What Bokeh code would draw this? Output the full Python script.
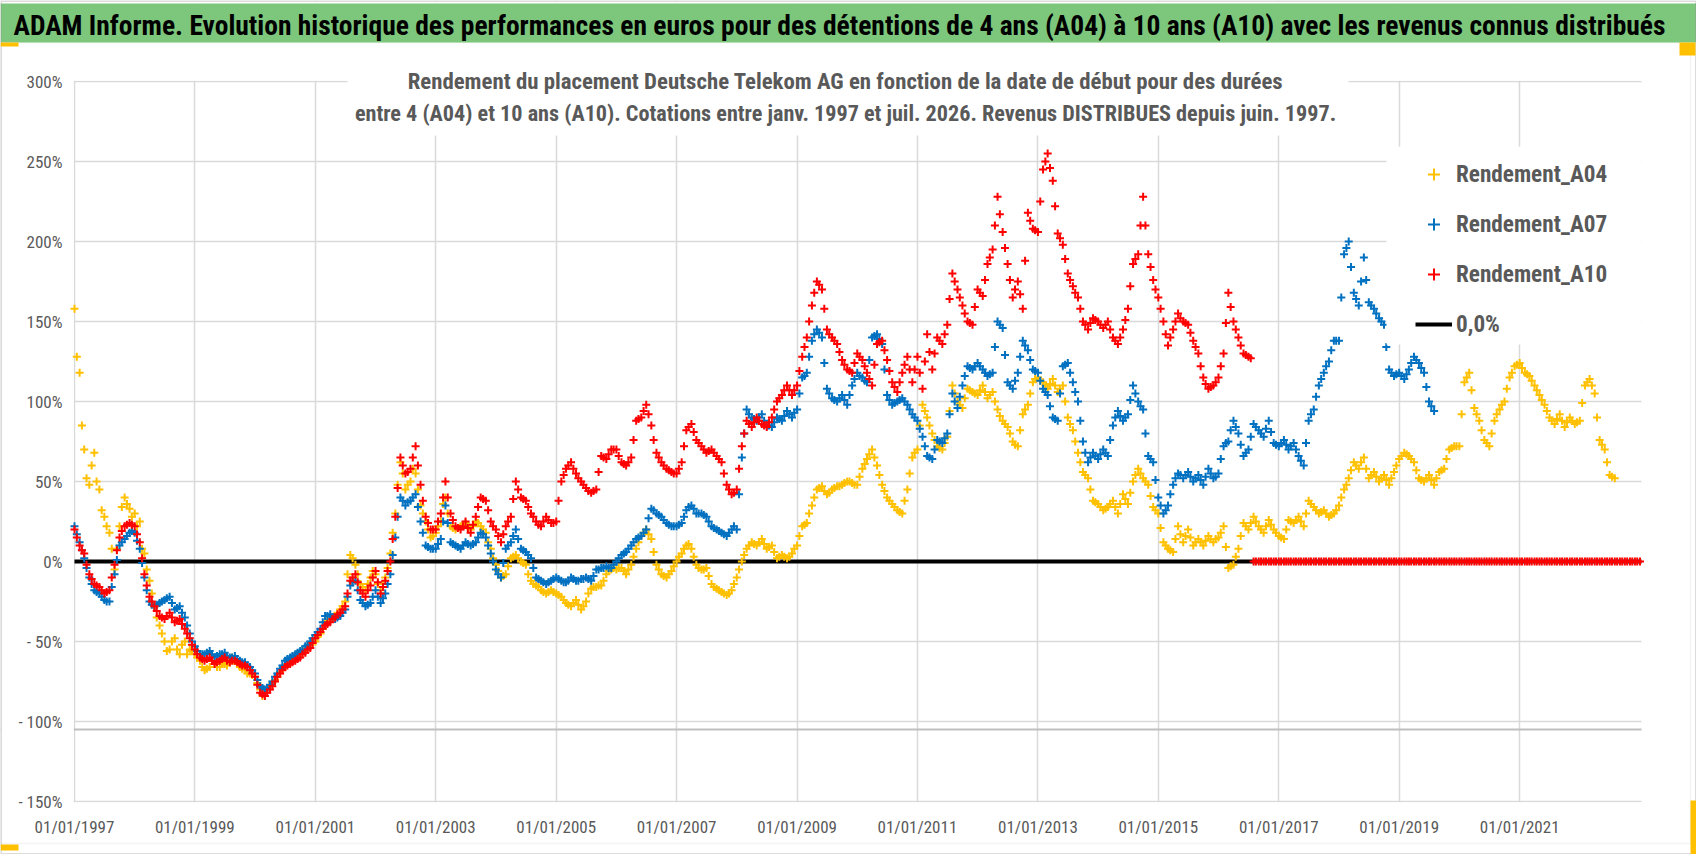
import pandas as pd
from bokeh.plotting import figure
from bokeh.models import (FixedTicker, Label, Legend, LegendItem, Span,
                          BoxAnnotation, ColumnDataSource, Range1d)
from bokeh.embed import file_html
from bokeh.resources import INLINE

# ---------------- data: readings on the 1st of each month, from 1997-01 ----------------
rendement_a04 = [
    158, 118, 70, 48, 68, 45, 28, 18, -5, 22, 40, 33,          # 1997
    30, 25, 5, -12, -28, -40, -50, -55, -48, -58, -50, -55,     # 1998
    -58, -62, -68, -66, -64, -66, -64, -63, -62, -66, -68, -70, # 1999
    -72, -80, -82, -78, -74, -69, -65, -63, -60, -58, -55, -52, # 2000
    -50, -45, -38, -36, -34, -30, -25, 4, -2, -14, -18, -10,    # 2001
    -8, -18, -10, 5, 30, 62, 45, 50, 55, 35, 25, 15,            # 2002
    18, 25, 40, 22, 20, 22, 24, 20, 25, 22, 18, 8,              # 2003
    -2, -10, -8, 2, 4, 0, -2, -12, -15, -18, -20, -18,          # 2004
    -20, -22, -26, -28, -24, -30, -25, -17, -16, -15, -8, -5,   # 2005
    -5, -4, -8, -2, 8, 16, 20, 14, -2, -8, -10, -6,             # 2006
    0, 5, 10, 8, -2, -5, -4, -14, -17, -19, -21, -18,           # 2007
    -10, 0, 8, 12, 10, 14, 8, 10, 2, 4, 2, 5,                   # 2008
    10, 22, 24, 35, 45, 47, 42, 45, 47, 48, 50, 49,             # 2009
    48, 58, 64, 70, 60, 48, 40, 36, 32, 30, 45, 65,             # 2010
    70, 98, 90, 80, 72, 70, 78, 110, 100, 96, 108, 106,         # 2011
    104, 110, 102, 106, 95, 88, 84, 75, 72, 92, 98, 112,        # 2012
    115, 112, 108, 114, 106, 110, 90, 82, 68, 56, 52, 38,       # 2013
    36, 32, 34, 38, 30, 42, 36, 50, 58, 52, 48, 34,             # 2014
    30, 12, 8, 6, 22, 12, 20, 10, 14, 10, 16, 12,               # 2015
    15, 22, -4, -2, 8, 24, 20, 28, 22, 18, 26, 20,              # 2016
    16, 14, 26, 24, 28, 22, 38, 34, 30, 32, 28, 30,             # 2017
    35, 45, 52, 62, 58, 65, 52, 56, 50, 54, 48, 56,             # 2018
    64, 68, 66, 62, 52, 50, 54, 48, 56, 58, 70, 72,             # 2019
    72, 112, 118, 96, 88, 76, 72, 88, 95, 100, 115, 122,        # 2020
    124, 118, 116, 110, 104, 98, 90, 86, 92, 84, 90, 86,        # 2021
    88, 110, 114, 105, 76, 70, 54, 52,                          # 2022
]
rendement_a07 = [
    22, 12, 2, -10, -18, -20, -24, -25, -8, 10, 14, 18,         # 1997
    18, 8, -10, -25, -28, -26, -24, -22, -30, -28, -35, -45,    # 1998
    -53, -58, -58, -56, -60, -58, -57, -60, -59, -62, -63, -66, # 1999
    -70, -78, -80, -77, -72, -67, -62, -60, -58, -56, -53, -50, # 2000
    -46, -42, -34, -33, -36, -34, -30, -15, -12, -24, -28, -26, # 2001
    -18, -26, -20, -8, 15, 40, 35, 38, 42, 25, 10, 8,           # 2002
    8, 14, 35, 12, 10, 8, 12, 10, 12, 18, 15, 5,                # 2003
    -5, -10, 8, 12, 20, 8, 6, 2, -10, -12, -14, -12,            # 2004
    -10, -12, -13, -10, -12, -11, -10, -12, -5, -4, -3, -4,     # 2005
    0, 4, 6, 10, 14, 16, 20, 33, 30, 28, 24, 22,                # 2006
    22, 24, 32, 35, 30, 30, 28, 22, 20, 18, 16, 20,             # 2007
    20, 65, 95, 90, 88, 92, 85, 84, 90, 88, 94, 90,             # 2008
    95, 115, 118, 138, 145, 140, 108, 102, 100, 104, 98, 110,   # 2009
    118, 115, 112, 140, 142, 136, 104, 98, 100, 102, 98, 92,    # 2010
    88, 78, 66, 64, 76, 74, 80, 105, 96, 110, 122, 120,         # 2011
    124, 120, 116, 118, 150, 146, 112, 108, 118, 138, 132, 120, # 2012
    118, 108, 104, 90, 88, 122, 124, 112, 100, 75, 62, 68,      # 2013
    64, 70, 66, 85, 94, 88, 92, 110, 100, 95, 66, 62,           # 2014
    40, 30, 35, 48, 55, 52, 56, 50, 54, 48, 58, 52,             # 2015
    55, 72, 75, 88, 80, 66, 70, 86, 82, 78, 88, 74,             # 2016
    72, 76, 70, 74, 66, 60, 88, 95, 110, 118, 125, 138,         # 2017
    138, 192, 200, 168, 160, 190, 162, 158, 152, 148, 120, 116, # 2018
    118, 114, 120, 128, 124, 118, 100, 94,                      # 2019
]
rendement_a10 = [
    20, 10, 5, -8, -14, -16, -20, -18, -2, 15, 22, 24,          # 1997
    22, 12, -8, -22, -28, -34, -36, -32, -38, -36, -42, -48,    # 1998
    -55, -60, -62, -60, -64, -62, -60, -63, -62, -64, -65, -68, # 1999
    -72, -82, -84, -80, -75, -70, -66, -64, -62, -60, -57, -54, # 2000
    -48, -44, -40, -38, -35, -32, -28, -12, -8, -18, -22, -15,  # 2001
    -6, -20, -12, 0, 28, 65, 55, 58, 72, 48, 28, 20,            # 2002
    20, 30, 50, 30, 22, 20, 25, 18, 28, 40, 38, 25,             # 2003
    20, 12, 22, 28, 50, 40, 38, 30, 25, 22, 28, 24,             # 2004
    25, 50, 58, 62, 55, 50, 46, 43, 45, 66, 64, 70,             # 2005
    70, 62, 60, 65, 88, 90, 98, 85, 68, 62, 58, 56,             # 2006
    55, 62, 82, 86, 76, 72, 68, 70, 66, 62, 48, 42,             # 2007
    45, 72, 88, 84, 90, 86, 84, 90, 100, 104, 110, 104,         # 2008
    110, 128, 140, 160, 175, 170, 145, 140, 136, 126, 120, 118, # 2009
    130, 126, 118, 110, 136, 138, 126, 112, 106, 118, 128, 112, # 2010
    128, 108, 142, 120, 140, 136, 148, 180, 170, 160, 150, 148, # 2011
    170, 166, 186, 195, 228, 206, 186, 165, 175, 158, 218, 208, # 2012
    206, 245, 255, 238, 205, 198, 180, 172, 165, 150, 145, 152, # 2013
    150, 146, 150, 140, 136, 145, 158, 186, 192, 228, 192, 176, # 2014
    165, 150, 135, 145, 155, 150, 148, 138, 130, 115, 108, 110, # 2015
    115, 130, 168, 150, 140, 130, 128, 0, 0, 0, 0, 0,           # 2016
    0, 0, 0, 0, 0, 0, 0, 0, 0, 0, 0, 0,                         # 2017
    0, 0, 0, 0, 0, 0, 0, 0, 0, 0, 0, 0,                         # 2018
    0, 0, 0, 0, 0, 0, 0, 0, 0, 0, 0, 0,                         # 2019
    0, 0, 0, 0, 0, 0, 0, 0, 0, 0, 0, 0,                         # 2020
    0, 0, 0, 0, 0, 0, 0, 0, 0, 0, 0, 0,                         # 2021
    0, 0, 0, 0, 0, 0, 0, 0, 0, 0, 0, 0,                         # 2022
    0,                                                          # 2023
]
# ---------------- data: readings on the 15th of each month, from 1997-01 ----------------
rendement_a04_mi_mois = [
    128, 85, 52, 60, 50, 32, 22, 8, 8, 34, 36, 28,              # 1997
    22, 8, -5, -20, -35, -45, -56, -50, -55, -52, -58, -56,     # 1998
    -60, -66, -67, -62, -66, -63, -65, -60, -64, -67, -70, -71, # 1999
    -76, -84, -80, -76, -72, -67, -64, -61, -59, -56, -53, -51, # 2000
    -47, -42, -37, -35, -32, -28, -8, 2, -8, -16, -14, -6,      # 2001
    -14, -14, -4, 18, 48, 55, 48, 58, 45, 30, 20, 16,           # 2002
    22, 36, 30, 21, 21, 23, 22, 22, 24, 20, 12, 2,              # 2003
    -6, -9, -3, 3, 2, -1, -8, -14, -16, -19, -19, -19,          # 2004
    -21, -24, -27, -26, -27, -28, -20, -16, -15, -12, -6, -4,   # 2005
    -4, -6, -5, 3, 12, 18, 17, 6, -5, -9, -8, -3,               # 2006
    3, 8, 11, 3, -4, -5, -9, -16, -18, -20, -20, -14,           # 2007
    -5, 4, 10, 11, 12, 11, 9, 6, 3, 3, 3, 8,                    # 2008
    16, 23, 30, 40, 46, 44, 43, 46, 47, 49, 50, 48,             # 2009
    53, 61, 67, 65, 54, 44, 38, 34, 31, 38, 55, 68,             # 2010
    85, 94, 85, 76, 71, 74, 94, 105, 98, 102, 107, 105,         # 2011
    107, 106, 104, 100, 91, 86, 80, 73, 82, 95, 105, 114,       # 2012
    113, 110, 111, 110, 108, 100, 86, 75, 62, 54, 45, 37,       # 2013
    34, 33, 36, 34, 36, 39, 43, 54, 55, 50, 41, 32,             # 2014
    21, 10, 7, 14, 17, 16, 15, 12, 12, 13, 14, 14,              # 2015
    18, 9, -3, 3, 16, 22, 24, 25, 20, 22, 23, 18,               # 2016
    15, 20, 25, 26, 25, 30, 36, 32, 31, 30, 29, 32,             # 2017
    40, 48, 57, 60, 62, 58, 54, 53, 52, 51, 52, 60,             # 2018
    66, 67, 64, 57, 51, 52, 51, 52, 57, 64, 71, 72,             # 2019
    92, 115, 107, 92, 82, 74, 80, 92, 98, 108, 118, 123,        # 2020
    121, 117, 113, 107, 101, 94, 88, 89, 88, 87, 88, 87,        # 2021
    99, 112, 110, 90, 73, 62, 53,                               # 2022
]
rendement_a07_mi_mois = [
    17, 7, -4, -14, -19, -22, -25, -16, 1, 12, 16, 19,          # 1997
    13, -1, -18, -27, -27, -25, -23, -26, -29, -32, -40, -50,   # 1998
    -56, -58, -57, -58, -59, -58, -59, -60, -61, -63, -65, -68, # 1999
    -74, -79, -79, -75, -70, -65, -61, -59, -57, -55, -52, -48, # 2000
    -44, -38, -34, -35, -35, -32, -22, -13, -18, -26, -27, -22, # 2001
    -22, -23, -14, 4, 28, 38, 37, 40, 34, 18, 9, 8,             # 2002
    11, 25, 24, 11, 9, 10, 11, 11, 15, 17, 10, 0,               # 2003
    -8, -1, 10, 16, 14, 7, 4, -4, -11, -13, -13, -11,           # 2004
    -11, -13, -12, -11, -12, -11, -11, -9, -5, -4, -4, -2,      # 2005
    2, 5, 8, 12, 15, 18, 27, 32, 29, 26, 23, 22,                # 2006
    23, 28, 34, 33, 30, 29, 25, 21, 19, 17, 18, 22,             # 2007
    42, 80, 92, 89, 90, 88, 85, 87, 89, 91, 92, 93,             # 2008
    105, 116, 128, 142, 143, 124, 105, 101, 102, 101, 104, 114, # 2009
    116, 113, 126, 141, 139, 120, 101, 99, 101, 100, 95, 90,    # 2010
    83, 72, 65, 70, 75, 77, 92, 100, 103, 116, 121, 122,        # 2011
    122, 118, 117, 134, 148, 129, 110, 113, 128, 135, 126, 119, # 2012
    113, 106, 97, 89, 105, 123, 118, 106, 88, 68, 65, 66,       # 2013
    67, 68, 76, 90, 91, 90, 101, 105, 97, 80, 64, 51,           # 2014
    35, 32, 42, 52, 54, 54, 53, 52, 51, 53, 55, 53,             # 2015
    64, 74, 82, 84, 73, 68, 78, 84, 80, 83, 81, 73,             # 2016
    74, 73, 72, 70, 63, 74, 92, 103, 114, 122, 132, 138,        # 2017
    165, 196, 184, 164, 175, 176, 160, 155, 150, 134, 118, 117, # 2018
    116, 117, 124, 126, 121, 109, 97,                           # 2019
]
rendement_a10_mi_mois = [
    15, 7, -2, -11, -15, -18, -19, -10, 7, 19, 23, 23,          # 1997
    17, 2, -15, -25, -31, -35, -34, -35, -37, -39, -45, -52,    # 1998
    -58, -61, -61, -62, -63, -61, -62, -62, -63, -65, -66, -70, # 1999
    -77, -83, -82, -78, -72, -68, -65, -63, -61, -58, -55, -51, # 2000
    -46, -42, -39, -36, -33, -30, -20, -10, -13, -20, -18, -10, # 2001
    -13, -16, -6, 14, 46, 60, 56, 65, 60, 38, 24, 20,           # 2002
    25, 40, 40, 26, 21, 22, 21, 23, 34, 39, 32, 22,             # 2003
    16, 17, 25, 39, 45, 39, 34, 28, 23, 25, 26, 24,             # 2004
    38, 54, 60, 58, 52, 48, 44, 44, 56, 65, 67, 70,             # 2005
    66, 61, 62, 76, 89, 94, 92, 76, 65, 60, 57, 55,             # 2006
    58, 72, 84, 81, 74, 70, 69, 68, 64, 55, 45, 43,             # 2007
    58, 80, 86, 87, 88, 85, 87, 95, 102, 107, 107, 107,         # 2008
    119, 134, 150, 168, 173, 158, 142, 138, 131, 123, 119, 124, # 2009
    128, 122, 114, 123, 137, 132, 119, 109, 112, 123, 120, 120, # 2010
    118, 125, 131, 130, 138, 142, 164, 175, 165, 155, 149, 159, # 2011
    168, 176, 190, 210, 217, 196, 176, 170, 167, 188, 213, 207, # 2012
    225, 250, 246, 222, 202, 189, 176, 168, 158, 148, 149, 151, # 2013
    148, 148, 145, 138, 140, 151, 172, 189, 210, 210, 184, 170, # 2014
    158, 142, 140, 150, 152, 149, 143, 134, 122, 111, 109, 112, # 2015
    122, 149, 159, 145, 135, 129, 127, 0, 0, 0, 0, 0,           # 2016
    0, 0, 0, 0, 0, 0, 0, 0, 0, 0, 0, 0,                         # 2017
    0, 0, 0, 0, 0, 0, 0, 0, 0, 0, 0, 0,                         # 2018
    0, 0, 0, 0, 0, 0, 0, 0, 0, 0, 0, 0,                         # 2019
    0, 0, 0, 0, 0, 0, 0, 0, 0, 0, 0, 0,                         # 2020
    0, 0, 0, 0, 0, 0, 0, 0, 0, 0, 0, 0,                         # 2021
    0, 0, 0, 0, 0, 0, 0, 0, 0, 0, 0, 0,                         # 2022
]
zero_line_dates = ["1997-01-01", "2023-01-10"]
zero_line_values = [0, 0]

x_tick_dates = ["1997-01-01", "1999-01-01", "2001-01-01", "2003-01-01", "2005-01-01",
                "2007-01-01", "2009-01-01", "2011-01-01", "2013-01-01", "2015-01-01",
                "2017-01-01", "2019-01-01", "2021-01-01"]
x_tick_labels = ["01/01/1997", "01/01/1999", "01/01/2001", "01/01/2003", "01/01/2005",
                 "01/01/2007", "01/01/2009", "01/01/2011", "01/01/2013", "01/01/2015",
                 "01/01/2017", "01/01/2019", "01/01/2021"]
y_ticks = [-150, -100, -50, 0, 50, 100, 150, 200, 250, 300]
y_tick_labels = ["- 150%", "- 100%", "- 50%", "0%", "50%", "100%", "150%", "200%", "250%", "300%"]

TITLE = ("ADAM Informe. Evolution historique des performances en euros pour des "
         "détentions de 4 ans (A04) à 10 ans (A10) avec les revenus connus distribués")
SUB1 = "Rendement du placement Deutsche Telekom AG en fonction de la date de début pour des durées"
SUB2 = ("entre 4 (A04) et 10 ans (A10). Cotations entre janv. 1997 et juil. 2026. "
        "Revenus DISTRIBUES depuis juin. 1997.")

# ---------------- styling ----------------
FONT = "'Roboto Condensed', Lato"
GREEN = "#7dc77d"
GRID = "#d9d9d9"
TXT = "#595959"
C04, C07, C10 = "#ffc000", "#0070c0", "#ff0000"
W, H = 1696, 854


def ms(d):
    return pd.Timestamp(d).value // 10**6


# plot area (pixels): x 74..1641 <-> 1997-01-01..2023-01-10, y 81..801 <-> 300%..-150%
MS0, MS1 = ms("1997-01-01"), ms("2023-01-10")
PX_PER_MS = (1641 - 74) / (MS1 - MS0)


def X(px):
    return MS0 + (px - 74) / PX_PER_MS


def Y(py):
    return 300 - (py - 81) / 1.6


p = figure(width=W, height=H, x_axis_type="datetime",
           x_range=Range1d(X(0), X(W)), y_range=Range1d(Y(H), Y(0)),
           toolbar_location=None, output_backend="svg", min_border=0,
           outline_line_color=None, background_fill_color="white", border_fill_color="white")

x_tick_ms = [ms(d) for d in x_tick_dates]
p.xaxis.ticker = FixedTicker(ticks=x_tick_ms)
p.xaxis.major_label_overrides = dict(zip(x_tick_ms, x_tick_labels))
p.yaxis.ticker = FixedTicker(ticks=y_ticks)
p.yaxis.major_label_overrides = dict(zip(y_ticks, y_tick_labels))
p.xaxis.fixed_location = -150
p.yaxis.fixed_location = MS0
for ax in (p.xaxis[0], p.yaxis[0]):
    ax.axis_line_color = None
    ax.major_tick_line_color = None
    ax.minor_tick_line_color = None
    ax.major_tick_out = 0
    ax.major_tick_in = 0
    ax.major_label_text_font = FONT
    ax.major_label_text_font_size = "17px"
    ax.major_label_text_color = TXT
p.xaxis.major_label_standoff = 15
p.yaxis.major_label_standoff = 12

p.xgrid.ticker = FixedTicker(ticks=x_tick_ms)
p.ygrid.ticker = FixedTicker(ticks=y_ticks)
p.grid.grid_line_color = GRID
p.grid.grid_line_width = 1.5

# horizontal axis line of the plot area
p.add_layout(Span(location=-105, dimension="width", line_color="#bfbfbf", line_width=2,
                  level="underlay"))
# keep grid lines inside the plot area
for kw in (dict(right=X(73.3)), dict(left=X(1641)), dict(bottom=Y(80.2)), dict(top=Y(801.8))):
    p.add_layout(BoxAnnotation(fill_color="white", fill_alpha=1, line_color=None,
                               level="underlay", **kw))


def src(first, mid):
    d1 = list(pd.date_range("1997-01-01", periods=len(first), freq="MS"))
    d2 = list(pd.date_range("1997-01-01", periods=len(mid), freq="MS") + pd.Timedelta(days=14))
    return ColumnDataSource(dict(d=d1 + d2, v=list(first) + list(mid)))


r0 = p.line(pd.to_datetime(zero_line_dates), zero_line_values, line_color="black", line_width=4)
r04 = p.scatter("d", "v", source=src(rendement_a04, rendement_a04_mi_mois), marker="cross",
                size=8, line_width=2, line_color=C04)
r07 = p.scatter("d", "v", source=src(rendement_a07, rendement_a07_mi_mois), marker="cross",
                size=8, line_width=2, line_color=C07)
r10 = p.scatter("d", "v", source=src(rendement_a10, rendement_a10_mi_mois), marker="cross",
                size=8, line_width=2, line_color=C10)

# chart area frame, title bar, selection handles
p.add_layout(BoxAnnotation(right=X(1690), top=Y(42), bottom=Y(843), fill_alpha=0,
                           line_color="#d9d9d9", line_width=1.5))
p.add_layout(BoxAnnotation(top=Y(3), bottom=Y(42), fill_color=GREEN, fill_alpha=1, line_color=None))
p.add_layout(BoxAnnotation(fill_alpha=0, line_color="#8c8c8c", line_width=3))
for l, r, t, b in ((0, 18, 42, 46), (1679, 1695, 42, 55), (1690, 1696, 800, 854), (0, 18, 844, 850)):
    p.add_layout(BoxAnnotation(left=X(l), right=X(r), top=Y(t), bottom=Y(b),
                               fill_color=C04, fill_alpha=1, line_color=None))
p.add_layout(Label(x=X(13), y=Y(24.5), text=TITLE, text_baseline="middle", text_align="left",
                   text_font=FONT, text_font_size="27.5px", text_font_style="bold",
                   text_color="#000000"))

# subtitle box
p.add_layout(BoxAnnotation(left=X(347), right=X(1348), top=Y(63), bottom=Y(135),
                           fill_color="white", fill_alpha=1, line_color=None))
p.add_layout(Label(x=X(845), y=Y(81), text=SUB1, text_align="center",
                   text_baseline="middle", text_font=FONT, text_font_size="22.8px",
                   text_font_style="bold", text_color=TXT))
p.add_layout(Label(x=X(845), y=Y(112), text=SUB2, text_align="center",
                   text_baseline="middle", text_font=FONT, text_font_size="22.2px",
                   text_font_style="bold", text_color=TXT))

# legend box
p.add_layout(BoxAnnotation(left=X(1386), right=X(1641), top=Y(146), bottom=Y(344),
                           fill_color="white", fill_alpha=1, line_color=None))
legend = Legend(items=[LegendItem(label="Rendement_A04", renderers=[r04]),
                       LegendItem(label="Rendement_A07", renderers=[r07]),
                       LegendItem(label="Rendement_A10", renderers=[r10]),
                       LegendItem(label="0,0%", renderers=[r0])],
                location=(1415, H - 339), orientation="vertical", glyph_width=37, glyph_height=30,
                label_height=30, label_standoff=4, spacing=20, padding=12, margin=0,
                background_fill_color="white", background_fill_alpha=1, border_line_color=None,
                label_text_font=FONT, label_text_font_size="23.2px", label_text_font_style="bold",
                label_text_color=TXT)
p.add_layout(legend)

open("out.html", "w").write(file_html(p, INLINE))
